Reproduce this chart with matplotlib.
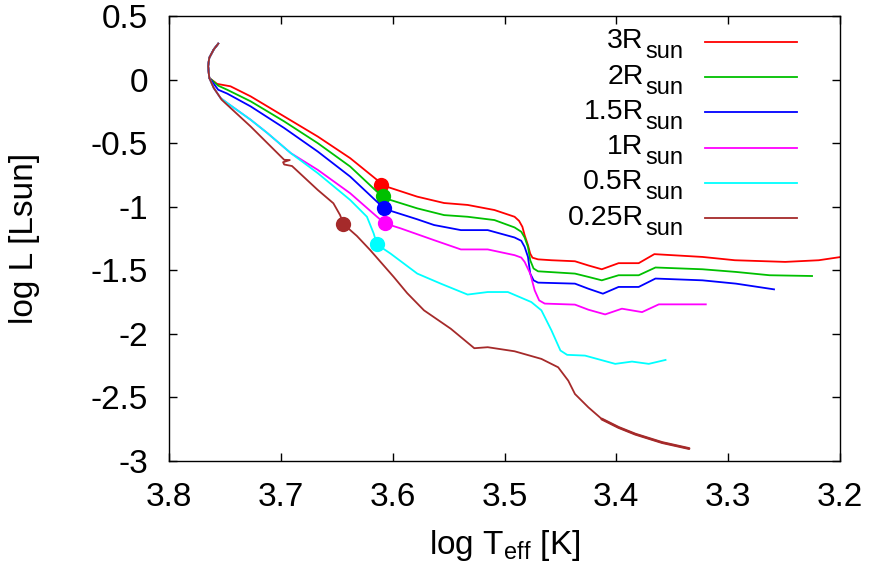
import matplotlib
matplotlib.use("Agg")
import matplotlib.pyplot as plt
import numpy as np
from matplotlib.ticker import FuncFormatter

plt.rcParams['font.family'] = ['Liberation Sans', 'DejaVu Sans']
plt.rcParams['mathtext.fontset'] = 'custom'
plt.rcParams['mathtext.rm'] = 'Liberation Sans'
plt.rcParams['axes.unicode_minus'] = False

# shared hook at the top of every track
hook_x = [3.756, 3.760, 3.764, 3.765, 3.764]
hook_y = [0.282, 0.237, 0.171, 0.105, 0.013]
hook_low_x = [3.760, 3.754]
hook_low_y = [-0.066, -0.144]

red_x = [3.757, 3.745, 3.727, 3.697, 3.667, 3.638, 3.614, 3.610, 3.602, 3.578, 3.554,
         3.533, 3.509, 3.491, 3.487, 3.484, 3.482, 3.479, 3.477, 3.475, 3.470, 3.458,
         3.437, 3.425, 3.413, 3.398, 3.380, 3.366, 3.323, 3.294, 3.249, 3.219, 3.199]
red_y = [-0.034, -0.053, -0.132, -0.290, -0.448, -0.618, -0.789, -0.829, -0.852, -0.921, -0.971,
         -0.986, -1.026, -1.079, -1.111, -1.158, -1.224, -1.303, -1.369, -1.401, -1.414, -1.421,
         -1.429, -1.462, -1.492, -1.444, -1.444, -1.373, -1.395, -1.421, -1.434, -1.421, -1.395]

green_x = [3.756, 3.748, 3.727, 3.697, 3.667, 3.638, 3.614, 3.609, 3.602, 3.578, 3.554,
           3.533, 3.509, 3.491, 3.485, 3.482, 3.479, 3.477, 3.474, 3.470, 3.437, 3.425,
           3.413, 3.398, 3.380, 3.365, 3.323, 3.293, 3.263, 3.225]
green_y = [-0.048, -0.080, -0.171, -0.329, -0.500, -0.684, -0.882, -0.916, -0.947, -1.013, -1.066,
           -1.079, -1.105, -1.163, -1.197, -1.242, -1.316, -1.421, -1.486, -1.508, -1.526, -1.552,
           -1.579, -1.539, -1.539, -1.478, -1.492, -1.513, -1.539, -1.545]

blue_x = [3.756, 3.748, 3.727, 3.697, 3.667, 3.638, 3.614, 3.608, 3.602, 3.578, 3.563,
          3.539, 3.515, 3.491, 3.485, 3.482, 3.479, 3.477, 3.474, 3.470, 3.437, 3.425,
          3.412, 3.398, 3.380, 3.365, 3.323, 3.293, 3.259]
blue_y = [-0.080, -0.110, -0.211, -0.381, -0.566, -0.763, -0.961, -1.008, -1.032, -1.099, -1.144,
          -1.184, -1.184, -1.242, -1.268, -1.316, -1.395, -1.526, -1.579, -1.597, -1.605, -1.645,
          -1.684, -1.631, -1.631, -1.565, -1.579, -1.605, -1.650]

magenta_x = [3.748, 3.727, 3.712, 3.691, 3.667, 3.638, 3.614, 3.607, 3.593, 3.563, 3.539,
             3.515, 3.491, 3.485, 3.482, 3.477, 3.473, 3.469, 3.464, 3.437, 3.425, 3.410,
             3.395, 3.377, 3.362, 3.320]
magenta_y = [-0.184, -0.316, -0.421, -0.579, -0.710, -0.894, -1.079, -1.131, -1.170, -1.263, -1.336,
             -1.336, -1.381, -1.400, -1.434, -1.526, -1.658, -1.737, -1.762, -1.770, -1.810, -1.847,
             -1.802, -1.829, -1.768, -1.768]

cyan_x = [3.748, 3.727, 3.712, 3.691, 3.667, 3.638, 3.623, 3.617, 3.614, 3.602, 3.578,
          3.557, 3.533, 3.515, 3.497, 3.476, 3.467, 3.458, 3.450, 3.444, 3.428, 3.401,
          3.386, 3.371, 3.356]
cyan_y = [-0.184, -0.316, -0.421, -0.579, -0.736, -0.947, -1.079, -1.210, -1.297, -1.368, -1.526,
          -1.605, -1.691, -1.671, -1.671, -1.750, -1.815, -1.973, -2.131, -2.165, -2.171, -2.236,
          -2.218, -2.236, -2.205]

brown_x = [3.753, 3.727, 3.697, 3.692, 3.698, 3.697, 3.690, 3.667, 3.653, 3.647, 3.644,
           3.632, 3.620, 3.599, 3.587, 3.572, 3.548, 3.527, 3.515, 3.491, 3.467, 3.452,
           3.443, 3.437, 3.425, 3.413, 3.398, 3.383, 3.359, 3.335]
brown_y = [-0.158, -0.369, -0.631, -0.633, -0.650, -0.668, -0.680, -0.868, -0.973, -1.066, -1.137,
           -1.230, -1.342, -1.553, -1.680, -1.815, -1.960, -2.113, -2.105, -2.137, -2.197, -2.263,
           -2.368, -2.473, -2.578, -2.670, -2.736, -2.789, -2.855, -2.902]

# marked points on each track
dot_x = [3.610, 3.609, 3.608, 3.607, 3.614, 3.644]
dot_y = [-0.829, -0.916, -1.008, -1.131, -1.297, -1.137]

labels = ["3R", "2R", "1.5R", "1R", "0.5R", "0.25R"]
colors = ["#ff0000", "#00c000", "#0000ff", "#ff00ff", "#00ffff", "#a52a2a"]

tracks = [
    (hook_x + red_x, hook_y + red_y),
    (hook_x + green_x, hook_y + green_y),
    (hook_x + blue_x, hook_y + blue_y),
    (hook_x + hook_low_x + magenta_x, hook_y + hook_low_y + magenta_y),
    (hook_x + hook_low_x + cyan_x, hook_y + hook_low_y + cyan_y),
    (hook_x + hook_low_x + brown_x, hook_y + hook_low_y + brown_y),
]

fig = plt.figure(figsize=(8.72, 5.70), dpi=100)
ax = fig.add_axes([169 / 872, 1 - 461 / 570, 671 / 872, 445 / 570])

for i, (tx, ty) in enumerate(tracks):
    ax.plot(tx, ty, color=colors[i], lw=1.3, zorder=2 + 2 * i, solid_joinstyle='round')
    ax.plot(dot_x[i], dot_y[i], 'o', color=colors[i], ms=11, mec='none', zorder=3 + 2 * i)

# the noisy tail of the smallest track looks thicker
ax.plot(brown_x[25:], brown_y[25:], color=colors[5], lw=2.0, zorder=12,
        solid_capstyle='round')

# legend, gnuplot style: right-justified text then a line sample
for i in range(len(labels)):
    yl = 0.9422 - 0.0793 * i
    ax.text(0.7075, yl - 0.0148, labels[i], transform=ax.transAxes, ha='right',
            va='baseline', fontsize=20.5)
    ax.text(0.766, yl - 0.0373, "sun", transform=ax.transAxes, ha='right',
            va='baseline', fontsize=17)
    ax.plot([0.7988, 0.9359], [yl, yl], color=colors[i], lw=1.3, transform=ax.transAxes)

ax.set_xlim(3.8, 3.2)
ax.set_ylim(-3, 0.5)
ax.set_xticks(np.arange(3.8, 3.19, -0.1))
ax.set_yticks(np.arange(-3, 0.51, 0.5))
fmt = FuncFormatter(lambda v, p: "%g" % round(v, 2))
ax.xaxis.set_major_formatter(fmt)
ax.yaxis.set_major_formatter(fmt)
ax.tick_params(direction='in', length=6, width=1, top=True, right=True, labelsize=24)
ax.tick_params(axis='x', pad=15)
ax.tick_params(axis='y', pad=15)
for s in ax.spines.values():
    s.set_linewidth(1.0)

ax.set_xlabel(r"log T$_{\mathrm{eff}}$ [K]", fontsize=24)
ax.set_ylabel("log L [Lsun]", fontsize=24)
ax.xaxis.set_label_coords(0.5, -0.15)
ax.yaxis.set_label_coords(-0.192, 0.5)

fig.savefig("out.png", dpi=100)
